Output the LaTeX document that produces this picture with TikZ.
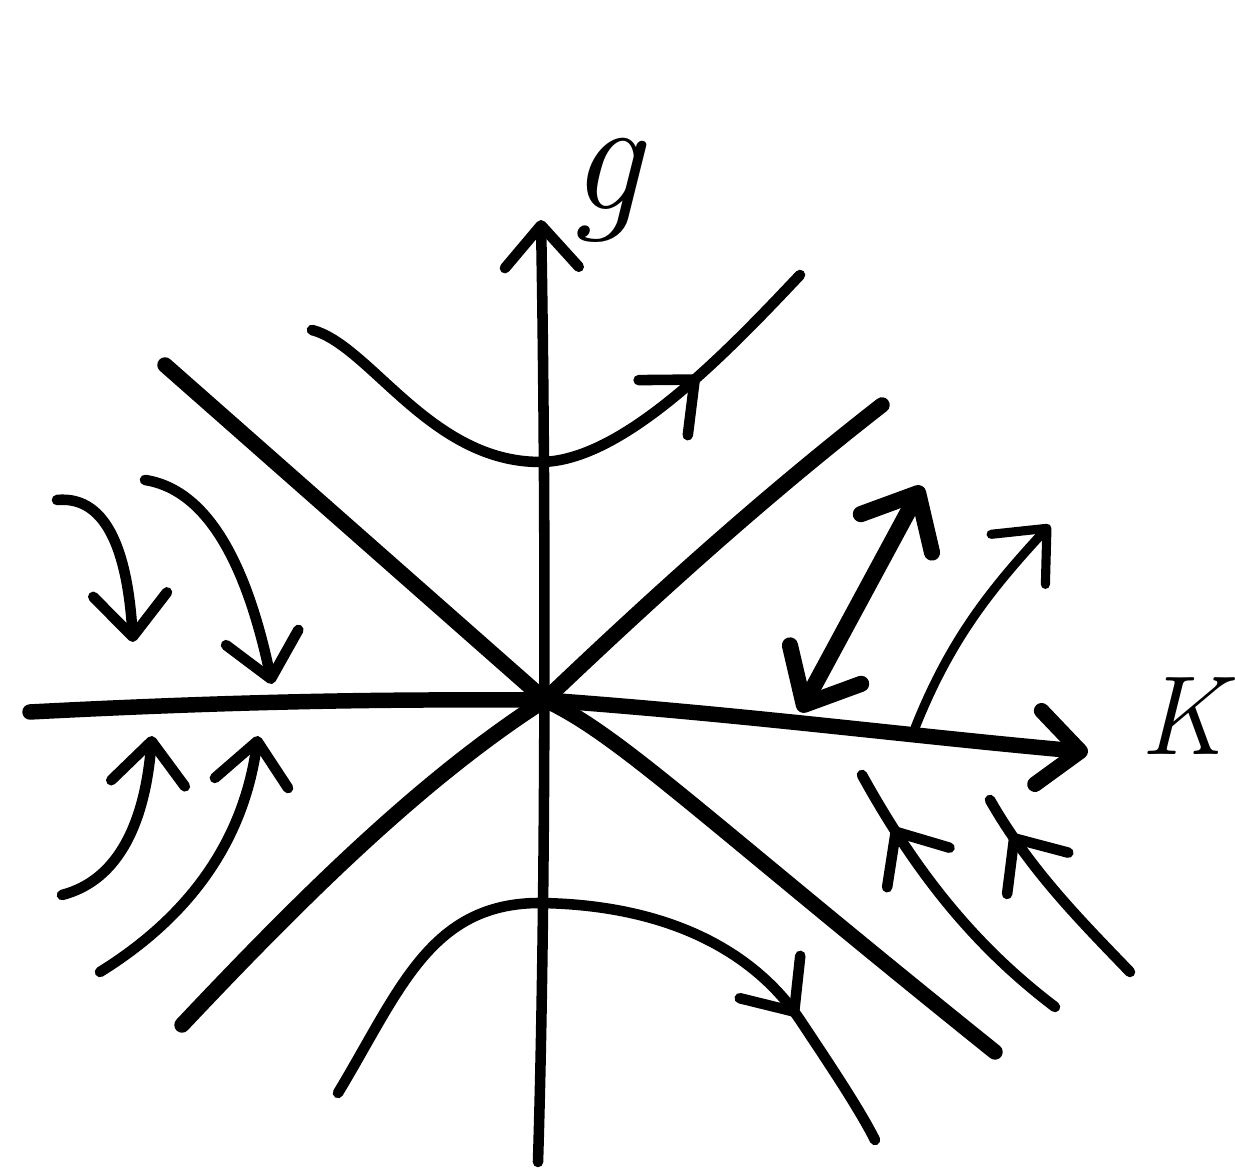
\documentclass[tikz,border=0pt]{standalone}
\usepackage{amsmath,amssymb}
\usepackage{fontspec}
\usepackage{xcolor}
\usepackage{tikz}
\usetikzlibrary{arrows.meta,decorations.markings,calc}

\tikzset{
	flow/.style={line width=3pt, line cap=round, line join=round},
	sep/.style={line width=4.4pt, line cap=round, line join=round},
	headend/.style={-{Straight Barb[length=12pt,width=21pt,round]}},
	midhead/.style={postaction={decorate}, decoration={markings,
		mark=at position #1 with {\arrow{Straight Barb[length=12pt,width=21pt,round]}}}}
}

\begin{document}
\begin{tikzpicture}[x=0.01cm, y=-0.01cm]
		\useasboundingbox (0,0) rectangle (1235,1171);
		\coordinate (O) at (545,700);

		% axes
		\draw[flow, headend] (538,1162) .. controls (546,900) and (546,500) .. (541,220) coordinate (gtop);
		\draw[sep, headend] (30,712) .. controls (300,698) and (450,700) .. (O) .. controls (750,715) and (900,735) .. (1088,752) coordinate (Kend);
		\node[font=\fontsize{46}{46}\selectfont\itshape] (glabel) at (606,190) {g};
		\node[font=\fontsize{32}{32}\selectfont\itshape] (Klabel) at (1183,716) {K};

		% separatrices
		\draw[sep] (165,365) -- (O) .. controls (620,735) and (700,815) .. (995,1052);
		\draw[sep] (182,1025) .. controls (300,900) and (420,780) .. (O) .. controls (650,600) and (760,500) .. (882,405);

		% hyperbolic flows
		\draw[flow, midhead=0.76] (312,330) .. controls (370,345) and (430,462) .. (540,462) .. controls (620,462) and (720,360) .. (800,275);
		\draw[flow, midhead=0.8] (338,1093) .. controls (400,990) and (430,903) .. (540,903) .. controls (680,905) and (760,960) .. (800,1020) .. controls (830,1065) and (860,1110) .. (875,1140);

		% flows onto the K axis
		\draw[flow, headend] (57,500) .. controls (110,495) and (128,560) .. (133,642);
		\draw[flow, headend] (145,480) .. controls (210,490) and (248,570) .. (272,684);
		\draw[flow, headend] (62,895) .. controls (120,880) and (145,820) .. (152,736);
		\draw[flow, headend] (100,972) .. controls (200,910) and (245,830) .. (258,736);

		% right side
		\draw[line width=4.6pt, line cap=round, {Straight Barb[length=13pt,width=23pt,round]}-{Straight Barb[length=13pt,width=23pt,round]}] (800,712) -- (922,486);
		\draw[line width=2.6pt, line cap=round, headend] (915,728) .. controls (950,640) and (990,590) .. (1050,525);
		\draw[flow, midhead=0.8] (1055,1007) .. controls (980,950) and (920,880) .. (862,775);
		\draw[flow, midhead=0.82] (1130,972) .. controls (1080,920) and (1030,870) .. (990,800);
	\end{tikzpicture}
\end{document}
